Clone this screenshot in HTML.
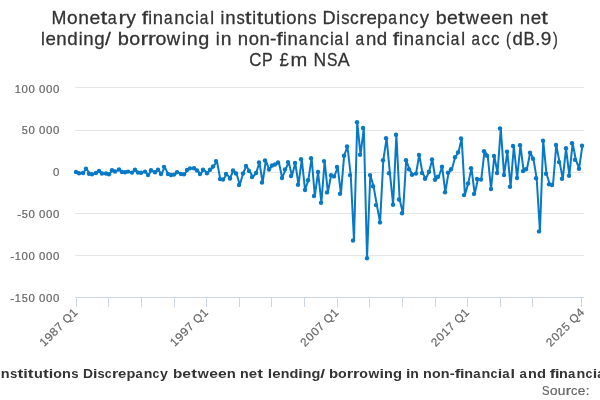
<!DOCTYPE html>
<html><head><meta charset="utf-8"><style>
html,body{margin:0;padding:0;background:#fff;width:600px;height:400px;overflow:hidden}
svg{display:block;will-change:transform}
text{font-family:"Liberation Sans",sans-serif}
</style></head><body>
<svg width="600" height="400" viewBox="0 0 600 400">
<rect width="600" height="400" fill="#ffffff"/>
<rect x="75" y="87" width="509" height="1" fill="#e6e6e6"/>
<rect x="75" y="130" width="509" height="1" fill="#e6e6e6"/>
<rect x="75" y="172" width="509" height="1" fill="#e6e6e6"/>
<rect x="75" y="213" width="509" height="1" fill="#e6e6e6"/>
<rect x="75" y="255" width="509" height="1" fill="#e6e6e6"/>
<rect x="75" y="297" width="509" height="1" fill="#ccd6eb"/>
<rect x="76" y="297" width="1" height="10" fill="#ccd6eb"/>
<rect x="108" y="297" width="1" height="10" fill="#ccd6eb"/>
<rect x="141" y="297" width="1" height="10" fill="#ccd6eb"/>
<rect x="174" y="297" width="1" height="10" fill="#ccd6eb"/>
<rect x="206" y="297" width="1" height="10" fill="#ccd6eb"/>
<rect x="239" y="297" width="1" height="10" fill="#ccd6eb"/>
<rect x="271" y="297" width="1" height="10" fill="#ccd6eb"/>
<rect x="304" y="297" width="1" height="10" fill="#ccd6eb"/>
<rect x="337" y="297" width="1" height="10" fill="#ccd6eb"/>
<rect x="369" y="297" width="1" height="10" fill="#ccd6eb"/>
<rect x="402" y="297" width="1" height="10" fill="#ccd6eb"/>
<rect x="435" y="297" width="1" height="10" fill="#ccd6eb"/>
<rect x="467" y="297" width="1" height="10" fill="#ccd6eb"/>
<rect x="500" y="297" width="1" height="10" fill="#ccd6eb"/>
<rect x="532" y="297" width="1" height="10" fill="#ccd6eb"/>
<rect x="581" y="297" width="1" height="10" fill="#ccd6eb"/>
<text x="14.70" y="93.00" textLength="6.12" lengthAdjust="spacingAndGlyphs" font-size="11.3" font-weight="normal" fill="#666666" stroke="#666666" stroke-width="0.2">1</text>
<text x="21.62" y="93.00" textLength="6.37" lengthAdjust="spacingAndGlyphs" font-size="11.3" font-weight="normal" fill="#666666" stroke="#666666" stroke-width="0.2">0</text>
<text x="28.62" y="93.00" textLength="6.37" lengthAdjust="spacingAndGlyphs" font-size="11.3" font-weight="normal" fill="#666666" stroke="#666666" stroke-width="0.2">0</text>
<text x="39.12" y="93.00" textLength="6.37" lengthAdjust="spacingAndGlyphs" font-size="11.3" font-weight="normal" fill="#666666" stroke="#666666" stroke-width="0.2">0</text>
<text x="46.12" y="93.00" textLength="6.37" lengthAdjust="spacingAndGlyphs" font-size="11.3" font-weight="normal" fill="#666666" stroke="#666666" stroke-width="0.2">0</text>
<text x="53.12" y="93.00" textLength="6.37" lengthAdjust="spacingAndGlyphs" font-size="11.3" font-weight="normal" fill="#666666" stroke="#666666" stroke-width="0.2">0</text>
<text x="21.70" y="134.00" textLength="6.12" lengthAdjust="spacingAndGlyphs" font-size="11.3" font-weight="normal" fill="#666666" stroke="#666666" stroke-width="0.2">5</text>
<text x="28.62" y="134.00" textLength="6.37" lengthAdjust="spacingAndGlyphs" font-size="11.3" font-weight="normal" fill="#666666" stroke="#666666" stroke-width="0.2">0</text>
<text x="39.12" y="134.00" textLength="6.37" lengthAdjust="spacingAndGlyphs" font-size="11.3" font-weight="normal" fill="#666666" stroke="#666666" stroke-width="0.2">0</text>
<text x="46.12" y="134.00" textLength="6.37" lengthAdjust="spacingAndGlyphs" font-size="11.3" font-weight="normal" fill="#666666" stroke="#666666" stroke-width="0.2">0</text>
<text x="53.12" y="134.00" textLength="6.37" lengthAdjust="spacingAndGlyphs" font-size="11.3" font-weight="normal" fill="#666666" stroke="#666666" stroke-width="0.2">0</text>
<text x="53.14" y="176.00" textLength="6.37" lengthAdjust="spacingAndGlyphs" font-size="11.3" font-weight="normal" fill="#666666" stroke="#666666" stroke-width="0.2">0</text>
<text x="17.29" y="218.00" textLength="4.04" lengthAdjust="spacingAndGlyphs" font-size="11.3" font-weight="normal" fill="#666666" stroke="#666666" stroke-width="0.2">-</text>
<text x="21.70" y="218.00" textLength="6.12" lengthAdjust="spacingAndGlyphs" font-size="11.3" font-weight="normal" fill="#666666" stroke="#666666" stroke-width="0.2">5</text>
<text x="28.62" y="218.00" textLength="6.37" lengthAdjust="spacingAndGlyphs" font-size="11.3" font-weight="normal" fill="#666666" stroke="#666666" stroke-width="0.2">0</text>
<text x="39.12" y="218.00" textLength="6.37" lengthAdjust="spacingAndGlyphs" font-size="11.3" font-weight="normal" fill="#666666" stroke="#666666" stroke-width="0.2">0</text>
<text x="46.12" y="218.00" textLength="6.37" lengthAdjust="spacingAndGlyphs" font-size="11.3" font-weight="normal" fill="#666666" stroke="#666666" stroke-width="0.2">0</text>
<text x="53.12" y="218.00" textLength="6.37" lengthAdjust="spacingAndGlyphs" font-size="11.3" font-weight="normal" fill="#666666" stroke="#666666" stroke-width="0.2">0</text>
<text x="10.29" y="260.00" textLength="4.04" lengthAdjust="spacingAndGlyphs" font-size="11.3" font-weight="normal" fill="#666666" stroke="#666666" stroke-width="0.2">-</text>
<text x="14.70" y="260.00" textLength="6.12" lengthAdjust="spacingAndGlyphs" font-size="11.3" font-weight="normal" fill="#666666" stroke="#666666" stroke-width="0.2">1</text>
<text x="21.62" y="260.00" textLength="6.37" lengthAdjust="spacingAndGlyphs" font-size="11.3" font-weight="normal" fill="#666666" stroke="#666666" stroke-width="0.2">0</text>
<text x="28.62" y="260.00" textLength="6.37" lengthAdjust="spacingAndGlyphs" font-size="11.3" font-weight="normal" fill="#666666" stroke="#666666" stroke-width="0.2">0</text>
<text x="39.12" y="260.00" textLength="6.37" lengthAdjust="spacingAndGlyphs" font-size="11.3" font-weight="normal" fill="#666666" stroke="#666666" stroke-width="0.2">0</text>
<text x="46.12" y="260.00" textLength="6.37" lengthAdjust="spacingAndGlyphs" font-size="11.3" font-weight="normal" fill="#666666" stroke="#666666" stroke-width="0.2">0</text>
<text x="53.12" y="260.00" textLength="6.37" lengthAdjust="spacingAndGlyphs" font-size="11.3" font-weight="normal" fill="#666666" stroke="#666666" stroke-width="0.2">0</text>
<text x="10.29" y="302.00" textLength="4.04" lengthAdjust="spacingAndGlyphs" font-size="11.3" font-weight="normal" fill="#666666" stroke="#666666" stroke-width="0.2">-</text>
<text x="14.70" y="302.00" textLength="6.12" lengthAdjust="spacingAndGlyphs" font-size="11.3" font-weight="normal" fill="#666666" stroke="#666666" stroke-width="0.2">1</text>
<text x="21.70" y="302.00" textLength="6.12" lengthAdjust="spacingAndGlyphs" font-size="11.3" font-weight="normal" fill="#666666" stroke="#666666" stroke-width="0.2">5</text>
<text x="28.62" y="302.00" textLength="6.37" lengthAdjust="spacingAndGlyphs" font-size="11.3" font-weight="normal" fill="#666666" stroke="#666666" stroke-width="0.2">0</text>
<text x="39.12" y="302.00" textLength="6.37" lengthAdjust="spacingAndGlyphs" font-size="11.3" font-weight="normal" fill="#666666" stroke="#666666" stroke-width="0.2">0</text>
<text x="46.12" y="302.00" textLength="6.37" lengthAdjust="spacingAndGlyphs" font-size="11.3" font-weight="normal" fill="#666666" stroke="#666666" stroke-width="0.2">0</text>
<text x="53.12" y="302.00" textLength="6.37" lengthAdjust="spacingAndGlyphs" font-size="11.3" font-weight="normal" fill="#666666" stroke="#666666" stroke-width="0.2">0</text>
<text x="51.57" y="23.90" textLength="14.89" lengthAdjust="spacingAndGlyphs" font-size="18.4" font-weight="normal" fill="#333333" stroke="#333333" stroke-width="0.28">M</text>
<text x="67.05" y="23.90" textLength="10.65" lengthAdjust="spacingAndGlyphs" font-size="18.4" font-weight="normal" fill="#333333" stroke="#333333" stroke-width="0.28">o</text>
<text x="78.21" y="23.90" textLength="10.71" lengthAdjust="spacingAndGlyphs" font-size="18.4" font-weight="normal" fill="#333333" stroke="#333333" stroke-width="0.28">n</text>
<text x="89.47" y="23.90" textLength="10.75" lengthAdjust="spacingAndGlyphs" font-size="18.4" font-weight="normal" fill="#333333" stroke="#333333" stroke-width="0.28">e</text>
<text x="100.41" y="23.90" textLength="6.77" lengthAdjust="spacingAndGlyphs" font-size="18.4" font-weight="normal" fill="#333333" stroke="#333333" stroke-width="0.28">t</text>
<text x="107.82" y="23.90" textLength="8.95" lengthAdjust="spacingAndGlyphs" font-size="18.4" font-weight="normal" fill="#333333" stroke="#333333" stroke-width="0.28">a</text>
<text x="118.55" y="23.90" textLength="7.64" lengthAdjust="spacingAndGlyphs" font-size="18.4" font-weight="normal" fill="#333333" stroke="#333333" stroke-width="0.28">r</text>
<text x="126.36" y="23.90" textLength="9.63" lengthAdjust="spacingAndGlyphs" font-size="18.4" font-weight="normal" fill="#333333" stroke="#333333" stroke-width="0.28">y</text>
<text x="141.77" y="23.90" textLength="6.30" lengthAdjust="spacingAndGlyphs" font-size="18.4" font-weight="normal" fill="#333333" stroke="#333333" stroke-width="0.28">f</text>
<text x="148.25" y="23.90" textLength="3.83" lengthAdjust="spacingAndGlyphs" font-size="18.4" font-weight="normal" fill="#333333" stroke="#333333" stroke-width="0.28">i</text>
<text x="152.88" y="23.90" textLength="10.27" lengthAdjust="spacingAndGlyphs" font-size="18.4" font-weight="normal" fill="#333333" stroke="#333333" stroke-width="0.28">n</text>
<text x="163.88" y="23.90" textLength="8.58" lengthAdjust="spacingAndGlyphs" font-size="18.4" font-weight="normal" fill="#333333" stroke="#333333" stroke-width="0.28">a</text>
<text x="174.39" y="23.90" textLength="10.27" lengthAdjust="spacingAndGlyphs" font-size="18.4" font-weight="normal" fill="#333333" stroke="#333333" stroke-width="0.28">n</text>
<text x="185.23" y="23.90" textLength="8.63" lengthAdjust="spacingAndGlyphs" font-size="18.4" font-weight="normal" fill="#333333" stroke="#333333" stroke-width="0.28">c</text>
<text x="194.97" y="23.90" textLength="3.83" lengthAdjust="spacingAndGlyphs" font-size="18.4" font-weight="normal" fill="#333333" stroke="#333333" stroke-width="0.28">i</text>
<text x="199.67" y="23.90" textLength="8.58" lengthAdjust="spacingAndGlyphs" font-size="18.4" font-weight="normal" fill="#333333" stroke="#333333" stroke-width="0.28">a</text>
<text x="210.34" y="23.90" textLength="3.83" lengthAdjust="spacingAndGlyphs" font-size="18.4" font-weight="normal" fill="#333333" stroke="#333333" stroke-width="0.28">l</text>
<text x="220.62" y="23.90" textLength="3.86" lengthAdjust="spacingAndGlyphs" font-size="18.4" font-weight="normal" fill="#333333" stroke="#333333" stroke-width="0.28">i</text>
<text x="225.28" y="23.90" textLength="10.34" lengthAdjust="spacingAndGlyphs" font-size="18.4" font-weight="normal" fill="#333333" stroke="#333333" stroke-width="0.28">n</text>
<text x="236.48" y="23.90" textLength="8.29" lengthAdjust="spacingAndGlyphs" font-size="18.4" font-weight="normal" fill="#333333" stroke="#333333" stroke-width="0.28">s</text>
<text x="245.07" y="23.90" textLength="6.53" lengthAdjust="spacingAndGlyphs" font-size="18.4" font-weight="normal" fill="#333333" stroke="#333333" stroke-width="0.28">t</text>
<text x="252.32" y="23.90" textLength="3.86" lengthAdjust="spacingAndGlyphs" font-size="18.4" font-weight="normal" fill="#333333" stroke="#333333" stroke-width="0.28">i</text>
<text x="256.71" y="23.90" textLength="6.53" lengthAdjust="spacingAndGlyphs" font-size="18.4" font-weight="normal" fill="#333333" stroke="#333333" stroke-width="0.28">t</text>
<text x="263.69" y="23.90" textLength="10.46" lengthAdjust="spacingAndGlyphs" font-size="18.4" font-weight="normal" fill="#333333" stroke="#333333" stroke-width="0.28">u</text>
<text x="274.53" y="23.90" textLength="6.53" lengthAdjust="spacingAndGlyphs" font-size="18.4" font-weight="normal" fill="#333333" stroke="#333333" stroke-width="0.28">t</text>
<text x="281.79" y="23.90" textLength="3.86" lengthAdjust="spacingAndGlyphs" font-size="18.4" font-weight="normal" fill="#333333" stroke="#333333" stroke-width="0.28">i</text>
<text x="286.31" y="23.90" textLength="10.27" lengthAdjust="spacingAndGlyphs" font-size="18.4" font-weight="normal" fill="#333333" stroke="#333333" stroke-width="0.28">o</text>
<text x="297.08" y="23.90" textLength="10.34" lengthAdjust="spacingAndGlyphs" font-size="18.4" font-weight="normal" fill="#333333" stroke="#333333" stroke-width="0.28">n</text>
<text x="308.27" y="23.90" textLength="8.29" lengthAdjust="spacingAndGlyphs" font-size="18.4" font-weight="normal" fill="#333333" stroke="#333333" stroke-width="0.28">s</text>
<text x="322.55" y="23.90" textLength="13.11" lengthAdjust="spacingAndGlyphs" font-size="18.4" font-weight="normal" fill="#333333" stroke="#333333" stroke-width="0.28">D</text>
<text x="336.29" y="23.90" textLength="3.87" lengthAdjust="spacingAndGlyphs" font-size="18.4" font-weight="normal" fill="#333333" stroke="#333333" stroke-width="0.28">i</text>
<text x="341.15" y="23.90" textLength="8.32" lengthAdjust="spacingAndGlyphs" font-size="18.4" font-weight="normal" fill="#333333" stroke="#333333" stroke-width="0.28">s</text>
<text x="349.95" y="23.90" textLength="8.71" lengthAdjust="spacingAndGlyphs" font-size="18.4" font-weight="normal" fill="#333333" stroke="#333333" stroke-width="0.28">c</text>
<text x="359.39" y="23.90" textLength="7.40" lengthAdjust="spacingAndGlyphs" font-size="18.4" font-weight="normal" fill="#333333" stroke="#333333" stroke-width="0.28">r</text>
<text x="366.64" y="23.90" textLength="10.41" lengthAdjust="spacingAndGlyphs" font-size="18.4" font-weight="normal" fill="#333333" stroke="#333333" stroke-width="0.28">e</text>
<text x="377.11" y="23.90" textLength="10.55" lengthAdjust="spacingAndGlyphs" font-size="18.4" font-weight="normal" fill="#333333" stroke="#333333" stroke-width="0.28">p</text>
<text x="388.26" y="23.90" textLength="8.67" lengthAdjust="spacingAndGlyphs" font-size="18.4" font-weight="normal" fill="#333333" stroke="#333333" stroke-width="0.28">a</text>
<text x="398.87" y="23.90" textLength="10.37" lengthAdjust="spacingAndGlyphs" font-size="18.4" font-weight="normal" fill="#333333" stroke="#333333" stroke-width="0.28">n</text>
<text x="409.82" y="23.90" textLength="8.71" lengthAdjust="spacingAndGlyphs" font-size="18.4" font-weight="normal" fill="#333333" stroke="#333333" stroke-width="0.28">c</text>
<text x="419.67" y="23.90" textLength="9.32" lengthAdjust="spacingAndGlyphs" font-size="18.4" font-weight="normal" fill="#333333" stroke="#333333" stroke-width="0.28">y</text>
<text x="435.72" y="23.90" textLength="10.94" lengthAdjust="spacingAndGlyphs" font-size="18.4" font-weight="normal" fill="#333333" stroke="#333333" stroke-width="0.28">b</text>
<text x="447.06" y="23.90" textLength="10.79" lengthAdjust="spacingAndGlyphs" font-size="18.4" font-weight="normal" fill="#333333" stroke="#333333" stroke-width="0.28">e</text>
<text x="458.05" y="23.90" textLength="6.79" lengthAdjust="spacingAndGlyphs" font-size="18.4" font-weight="normal" fill="#333333" stroke="#333333" stroke-width="0.28">t</text>
<text x="465.86" y="23.90" textLength="13.14" lengthAdjust="spacingAndGlyphs" font-size="18.4" font-weight="normal" fill="#333333" stroke="#333333" stroke-width="0.28">w</text>
<text x="480.05" y="23.90" textLength="10.79" lengthAdjust="spacingAndGlyphs" font-size="18.4" font-weight="normal" fill="#333333" stroke="#333333" stroke-width="0.28">e</text>
<text x="491.17" y="23.90" textLength="10.79" lengthAdjust="spacingAndGlyphs" font-size="18.4" font-weight="normal" fill="#333333" stroke="#333333" stroke-width="0.28">e</text>
<text x="502.44" y="23.90" textLength="10.75" lengthAdjust="spacingAndGlyphs" font-size="18.4" font-weight="normal" fill="#333333" stroke="#333333" stroke-width="0.28">n</text>
<text x="519.78" y="23.90" textLength="10.40" lengthAdjust="spacingAndGlyphs" font-size="18.4" font-weight="normal" fill="#333333" stroke="#333333" stroke-width="0.28">n</text>
<text x="530.72" y="23.90" textLength="10.44" lengthAdjust="spacingAndGlyphs" font-size="18.4" font-weight="normal" fill="#333333" stroke="#333333" stroke-width="0.28">e</text>
<text x="541.35" y="23.90" textLength="6.57" lengthAdjust="spacingAndGlyphs" font-size="18.4" font-weight="normal" fill="#333333" stroke="#333333" stroke-width="0.28">t</text>
<text x="40.97" y="44.75" textLength="3.87" lengthAdjust="spacingAndGlyphs" font-size="18.4" font-weight="normal" fill="#333333" stroke="#333333" stroke-width="0.28">l</text>
<text x="45.49" y="44.75" textLength="10.40" lengthAdjust="spacingAndGlyphs" font-size="18.4" font-weight="normal" fill="#333333" stroke="#333333" stroke-width="0.28">e</text>
<text x="56.36" y="44.75" textLength="10.37" lengthAdjust="spacingAndGlyphs" font-size="18.4" font-weight="normal" fill="#333333" stroke="#333333" stroke-width="0.28">n</text>
<text x="67.25" y="44.75" textLength="10.43" lengthAdjust="spacingAndGlyphs" font-size="18.4" font-weight="normal" fill="#333333" stroke="#333333" stroke-width="0.28">d</text>
<text x="78.63" y="44.75" textLength="3.87" lengthAdjust="spacingAndGlyphs" font-size="18.4" font-weight="normal" fill="#333333" stroke="#333333" stroke-width="0.28">i</text>
<text x="83.30" y="44.75" textLength="10.37" lengthAdjust="spacingAndGlyphs" font-size="18.4" font-weight="normal" fill="#333333" stroke="#333333" stroke-width="0.28">n</text>
<text x="94.19" y="44.75" textLength="10.43" lengthAdjust="spacingAndGlyphs" font-size="18.4" font-weight="normal" fill="#333333" stroke="#333333" stroke-width="0.28">g</text>
<text x="105.04" y="44.75" textLength="5.88" lengthAdjust="spacingAndGlyphs" font-size="18.4" font-weight="normal" fill="#333333" stroke="#333333" stroke-width="0.28">/</text>
<text x="117.69" y="44.75" textLength="11.17" lengthAdjust="spacingAndGlyphs" font-size="18.4" font-weight="normal" fill="#333333" stroke="#333333" stroke-width="0.28">b</text>
<text x="129.28" y="44.75" textLength="10.91" lengthAdjust="spacingAndGlyphs" font-size="18.4" font-weight="normal" fill="#333333" stroke="#333333" stroke-width="0.28">o</text>
<text x="140.47" y="44.75" textLength="7.83" lengthAdjust="spacingAndGlyphs" font-size="18.4" font-weight="normal" fill="#333333" stroke="#333333" stroke-width="0.28">r</text>
<text x="148.05" y="44.75" textLength="7.83" lengthAdjust="spacingAndGlyphs" font-size="18.4" font-weight="normal" fill="#333333" stroke="#333333" stroke-width="0.28">r</text>
<text x="155.41" y="44.75" textLength="10.91" lengthAdjust="spacingAndGlyphs" font-size="18.4" font-weight="normal" fill="#333333" stroke="#333333" stroke-width="0.28">o</text>
<text x="166.89" y="44.75" textLength="13.41" lengthAdjust="spacingAndGlyphs" font-size="18.4" font-weight="normal" fill="#333333" stroke="#333333" stroke-width="0.28">w</text>
<text x="181.70" y="44.75" textLength="4.10" lengthAdjust="spacingAndGlyphs" font-size="18.4" font-weight="normal" fill="#333333" stroke="#333333" stroke-width="0.28">i</text>
<text x="186.65" y="44.75" textLength="10.97" lengthAdjust="spacingAndGlyphs" font-size="18.4" font-weight="normal" fill="#333333" stroke="#333333" stroke-width="0.28">n</text>
<text x="198.18" y="44.75" textLength="11.05" lengthAdjust="spacingAndGlyphs" font-size="18.4" font-weight="normal" fill="#333333" stroke="#333333" stroke-width="0.28">g</text>
<text x="215.83" y="44.75" textLength="4.01" lengthAdjust="spacingAndGlyphs" font-size="18.4" font-weight="normal" fill="#333333" stroke="#333333" stroke-width="0.28">i</text>
<text x="220.66" y="44.75" textLength="10.73" lengthAdjust="spacingAndGlyphs" font-size="18.4" font-weight="normal" fill="#333333" stroke="#333333" stroke-width="0.28">n</text>
<text x="237.79" y="44.75" textLength="10.32" lengthAdjust="spacingAndGlyphs" font-size="18.4" font-weight="normal" fill="#333333" stroke="#333333" stroke-width="0.28">n</text>
<text x="248.65" y="44.75" textLength="10.25" lengthAdjust="spacingAndGlyphs" font-size="18.4" font-weight="normal" fill="#333333" stroke="#333333" stroke-width="0.28">o</text>
<text x="259.40" y="44.75" textLength="10.32" lengthAdjust="spacingAndGlyphs" font-size="18.4" font-weight="normal" fill="#333333" stroke="#333333" stroke-width="0.28">n</text>
<text x="269.95" y="44.75" textLength="6.37" lengthAdjust="spacingAndGlyphs" font-size="18.4" font-weight="normal" fill="#333333" stroke="#333333" stroke-width="0.28">-</text>
<text x="276.41" y="44.75" textLength="6.33" lengthAdjust="spacingAndGlyphs" font-size="18.4" font-weight="normal" fill="#333333" stroke="#333333" stroke-width="0.28">f</text>
<text x="282.92" y="44.75" textLength="3.85" lengthAdjust="spacingAndGlyphs" font-size="18.4" font-weight="normal" fill="#333333" stroke="#333333" stroke-width="0.28">i</text>
<text x="287.57" y="44.75" textLength="10.32" lengthAdjust="spacingAndGlyphs" font-size="18.4" font-weight="normal" fill="#333333" stroke="#333333" stroke-width="0.28">n</text>
<text x="298.63" y="44.75" textLength="8.63" lengthAdjust="spacingAndGlyphs" font-size="18.4" font-weight="normal" fill="#333333" stroke="#333333" stroke-width="0.28">a</text>
<text x="309.19" y="44.75" textLength="10.32" lengthAdjust="spacingAndGlyphs" font-size="18.4" font-weight="normal" fill="#333333" stroke="#333333" stroke-width="0.28">n</text>
<text x="320.09" y="44.75" textLength="8.67" lengthAdjust="spacingAndGlyphs" font-size="18.4" font-weight="normal" fill="#333333" stroke="#333333" stroke-width="0.28">c</text>
<text x="329.89" y="44.75" textLength="3.85" lengthAdjust="spacingAndGlyphs" font-size="18.4" font-weight="normal" fill="#333333" stroke="#333333" stroke-width="0.28">i</text>
<text x="334.60" y="44.75" textLength="8.63" lengthAdjust="spacingAndGlyphs" font-size="18.4" font-weight="normal" fill="#333333" stroke="#333333" stroke-width="0.28">a</text>
<text x="345.33" y="44.75" textLength="3.85" lengthAdjust="spacingAndGlyphs" font-size="18.4" font-weight="normal" fill="#333333" stroke="#333333" stroke-width="0.28">l</text>
<text x="355.38" y="44.75" textLength="8.62" lengthAdjust="spacingAndGlyphs" font-size="18.4" font-weight="normal" fill="#333333" stroke="#333333" stroke-width="0.28">a</text>
<text x="365.94" y="44.75" textLength="10.32" lengthAdjust="spacingAndGlyphs" font-size="18.4" font-weight="normal" fill="#333333" stroke="#333333" stroke-width="0.28">n</text>
<text x="376.78" y="44.75" textLength="10.39" lengthAdjust="spacingAndGlyphs" font-size="18.4" font-weight="normal" fill="#333333" stroke="#333333" stroke-width="0.28">d</text>
<text x="392.77" y="44.75" textLength="6.30" lengthAdjust="spacingAndGlyphs" font-size="18.4" font-weight="normal" fill="#333333" stroke="#333333" stroke-width="0.28">f</text>
<text x="399.25" y="44.75" textLength="3.83" lengthAdjust="spacingAndGlyphs" font-size="18.4" font-weight="normal" fill="#333333" stroke="#333333" stroke-width="0.28">i</text>
<text x="403.88" y="44.75" textLength="10.27" lengthAdjust="spacingAndGlyphs" font-size="18.4" font-weight="normal" fill="#333333" stroke="#333333" stroke-width="0.28">n</text>
<text x="414.88" y="44.75" textLength="8.58" lengthAdjust="spacingAndGlyphs" font-size="18.4" font-weight="normal" fill="#333333" stroke="#333333" stroke-width="0.28">a</text>
<text x="425.39" y="44.75" textLength="10.27" lengthAdjust="spacingAndGlyphs" font-size="18.4" font-weight="normal" fill="#333333" stroke="#333333" stroke-width="0.28">n</text>
<text x="436.23" y="44.75" textLength="8.63" lengthAdjust="spacingAndGlyphs" font-size="18.4" font-weight="normal" fill="#333333" stroke="#333333" stroke-width="0.28">c</text>
<text x="445.97" y="44.75" textLength="3.83" lengthAdjust="spacingAndGlyphs" font-size="18.4" font-weight="normal" fill="#333333" stroke="#333333" stroke-width="0.28">i</text>
<text x="450.67" y="44.75" textLength="8.58" lengthAdjust="spacingAndGlyphs" font-size="18.4" font-weight="normal" fill="#333333" stroke="#333333" stroke-width="0.28">a</text>
<text x="461.34" y="44.75" textLength="3.83" lengthAdjust="spacingAndGlyphs" font-size="18.4" font-weight="normal" fill="#333333" stroke="#333333" stroke-width="0.28">l</text>
<text x="471.39" y="44.75" textLength="8.42" lengthAdjust="spacingAndGlyphs" font-size="18.4" font-weight="normal" fill="#333333" stroke="#333333" stroke-width="0.28">a</text>
<text x="481.61" y="44.75" textLength="8.46" lengthAdjust="spacingAndGlyphs" font-size="18.4" font-weight="normal" fill="#333333" stroke="#333333" stroke-width="0.28">c</text>
<text x="490.92" y="44.75" textLength="8.46" lengthAdjust="spacingAndGlyphs" font-size="18.4" font-weight="normal" fill="#333333" stroke="#333333" stroke-width="0.28">c</text>
<text x="506.12" y="44.75" textLength="4.90" lengthAdjust="spacingAndGlyphs" font-size="18.4" font-weight="normal" fill="#333333" stroke="#333333" stroke-width="0.28">(</text>
<text x="512.50" y="44.75" textLength="10.38" lengthAdjust="spacingAndGlyphs" font-size="18.4" font-weight="normal" fill="#333333" stroke="#333333" stroke-width="0.28">d</text>
<text x="523.59" y="44.75" textLength="11.24" lengthAdjust="spacingAndGlyphs" font-size="18.4" font-weight="normal" fill="#333333" stroke="#333333" stroke-width="0.28">B</text>
<text x="535.36" y="44.75" textLength="5.06" lengthAdjust="spacingAndGlyphs" font-size="18.4" font-weight="normal" fill="#333333" stroke="#333333" stroke-width="0.28">.</text>
<text x="540.87" y="44.75" textLength="10.57" lengthAdjust="spacingAndGlyphs" font-size="18.4" font-weight="normal" fill="#333333" stroke="#333333" stroke-width="0.28">9</text>
<text x="553.03" y="44.75" textLength="4.81" lengthAdjust="spacingAndGlyphs" font-size="18.4" font-weight="normal" fill="#333333" stroke="#333333" stroke-width="0.28">)</text>
<text x="249.16" y="65.60" textLength="12.15" lengthAdjust="spacingAndGlyphs" font-size="18.4" font-weight="normal" fill="#333333" stroke="#333333" stroke-width="0.28">C</text>
<text x="262.08" y="65.60" textLength="10.72" lengthAdjust="spacingAndGlyphs" font-size="18.4" font-weight="normal" fill="#333333" stroke="#333333" stroke-width="0.28">P</text>
<text x="279.58" y="65.60" textLength="9.39" lengthAdjust="spacingAndGlyphs" font-size="18.4" font-weight="normal" fill="#333333" stroke="#333333" stroke-width="0.28">£</text>
<text x="290.52" y="65.60" textLength="16.78" lengthAdjust="spacingAndGlyphs" font-size="18.4" font-weight="normal" fill="#333333" stroke="#333333" stroke-width="0.28">m</text>
<text x="313.60" y="65.60" textLength="12.65" lengthAdjust="spacingAndGlyphs" font-size="18.4" font-weight="normal" fill="#333333" stroke="#333333" stroke-width="0.28">N</text>
<text x="326.99" y="65.60" textLength="10.47" lengthAdjust="spacingAndGlyphs" font-size="18.4" font-weight="normal" fill="#333333" stroke="#333333" stroke-width="0.28">S</text>
<text x="337.85" y="65.60" textLength="11.88" lengthAdjust="spacingAndGlyphs" font-size="18.4" font-weight="normal" fill="#333333" stroke="#333333" stroke-width="0.28">A</text>
<g transform="translate(78.48,312.80) rotate(-45)"><text x="-48.46" y="0.00" textLength="6.34" lengthAdjust="spacingAndGlyphs" font-size="11.6" font-weight="normal" fill="#666666" stroke="#666666" stroke-width="0.2">1</text><text x="-41.49" y="0.00" textLength="6.95" lengthAdjust="spacingAndGlyphs" font-size="11.6" font-weight="normal" fill="#666666" stroke="#666666" stroke-width="0.2">9</text><text x="-34.10" y="0.00" textLength="6.74" lengthAdjust="spacingAndGlyphs" font-size="11.6" font-weight="normal" fill="#666666" stroke="#666666" stroke-width="0.2">8</text><text x="-26.77" y="0.00" textLength="6.48" lengthAdjust="spacingAndGlyphs" font-size="11.6" font-weight="normal" fill="#666666" stroke="#666666" stroke-width="0.2">7</text><text x="-16.11" y="0.00" textLength="8.80" lengthAdjust="spacingAndGlyphs" font-size="11.6" font-weight="normal" fill="#666666" stroke="#666666" stroke-width="0.2">Q</text><text x="-6.85" y="0.00" textLength="6.34" lengthAdjust="spacingAndGlyphs" font-size="11.6" font-weight="normal" fill="#666666" stroke="#666666" stroke-width="0.2">1</text></g>
<g transform="translate(209.01,312.80) rotate(-45)"><text x="-48.46" y="0.00" textLength="6.34" lengthAdjust="spacingAndGlyphs" font-size="11.6" font-weight="normal" fill="#666666" stroke="#666666" stroke-width="0.2">1</text><text x="-41.49" y="0.00" textLength="6.95" lengthAdjust="spacingAndGlyphs" font-size="11.6" font-weight="normal" fill="#666666" stroke="#666666" stroke-width="0.2">9</text><text x="-34.24" y="0.00" textLength="6.95" lengthAdjust="spacingAndGlyphs" font-size="11.6" font-weight="normal" fill="#666666" stroke="#666666" stroke-width="0.2">9</text><text x="-26.77" y="0.00" textLength="6.48" lengthAdjust="spacingAndGlyphs" font-size="11.6" font-weight="normal" fill="#666666" stroke="#666666" stroke-width="0.2">7</text><text x="-16.11" y="0.00" textLength="8.80" lengthAdjust="spacingAndGlyphs" font-size="11.6" font-weight="normal" fill="#666666" stroke="#666666" stroke-width="0.2">Q</text><text x="-6.85" y="0.00" textLength="6.34" lengthAdjust="spacingAndGlyphs" font-size="11.6" font-weight="normal" fill="#666666" stroke="#666666" stroke-width="0.2">1</text></g>
<g transform="translate(339.49,312.80) rotate(-45)"><text x="-48.65" y="0.00" textLength="6.48" lengthAdjust="spacingAndGlyphs" font-size="11.6" font-weight="normal" fill="#666666" stroke="#666666" stroke-width="0.2">2</text><text x="-41.28" y="0.00" textLength="6.60" lengthAdjust="spacingAndGlyphs" font-size="11.6" font-weight="normal" fill="#666666" stroke="#666666" stroke-width="0.2">0</text><text x="-34.03" y="0.00" textLength="6.60" lengthAdjust="spacingAndGlyphs" font-size="11.6" font-weight="normal" fill="#666666" stroke="#666666" stroke-width="0.2">0</text><text x="-26.77" y="0.00" textLength="6.48" lengthAdjust="spacingAndGlyphs" font-size="11.6" font-weight="normal" fill="#666666" stroke="#666666" stroke-width="0.2">7</text><text x="-16.11" y="0.00" textLength="8.80" lengthAdjust="spacingAndGlyphs" font-size="11.6" font-weight="normal" fill="#666666" stroke="#666666" stroke-width="0.2">Q</text><text x="-6.85" y="0.00" textLength="6.34" lengthAdjust="spacingAndGlyphs" font-size="11.6" font-weight="normal" fill="#666666" stroke="#666666" stroke-width="0.2">1</text></g>
<g transform="translate(470.02,312.80) rotate(-45)"><text x="-48.65" y="0.00" textLength="6.48" lengthAdjust="spacingAndGlyphs" font-size="11.6" font-weight="normal" fill="#666666" stroke="#666666" stroke-width="0.2">2</text><text x="-41.28" y="0.00" textLength="6.60" lengthAdjust="spacingAndGlyphs" font-size="11.6" font-weight="normal" fill="#666666" stroke="#666666" stroke-width="0.2">0</text><text x="-33.96" y="0.00" textLength="6.34" lengthAdjust="spacingAndGlyphs" font-size="11.6" font-weight="normal" fill="#666666" stroke="#666666" stroke-width="0.2">1</text><text x="-26.77" y="0.00" textLength="6.48" lengthAdjust="spacingAndGlyphs" font-size="11.6" font-weight="normal" fill="#666666" stroke="#666666" stroke-width="0.2">7</text><text x="-16.11" y="0.00" textLength="8.80" lengthAdjust="spacingAndGlyphs" font-size="11.6" font-weight="normal" fill="#666666" stroke="#666666" stroke-width="0.2">Q</text><text x="-6.85" y="0.00" textLength="6.34" lengthAdjust="spacingAndGlyphs" font-size="11.6" font-weight="normal" fill="#666666" stroke="#666666" stroke-width="0.2">1</text></g>
<g transform="translate(585.08,312.80) rotate(-45)"><text x="-48.65" y="0.00" textLength="6.48" lengthAdjust="spacingAndGlyphs" font-size="11.6" font-weight="normal" fill="#666666" stroke="#666666" stroke-width="0.2">2</text><text x="-41.28" y="0.00" textLength="6.60" lengthAdjust="spacingAndGlyphs" font-size="11.6" font-weight="normal" fill="#666666" stroke="#666666" stroke-width="0.2">0</text><text x="-34.14" y="0.00" textLength="6.48" lengthAdjust="spacingAndGlyphs" font-size="11.6" font-weight="normal" fill="#666666" stroke="#666666" stroke-width="0.2">2</text><text x="-26.70" y="0.00" textLength="6.34" lengthAdjust="spacingAndGlyphs" font-size="11.6" font-weight="normal" fill="#666666" stroke="#666666" stroke-width="0.2">5</text><text x="-16.11" y="0.00" textLength="8.80" lengthAdjust="spacingAndGlyphs" font-size="11.6" font-weight="normal" fill="#666666" stroke="#666666" stroke-width="0.2">Q</text><text x="-6.98" y="0.00" textLength="6.65" lengthAdjust="spacingAndGlyphs" font-size="11.6" font-weight="normal" fill="#666666" stroke="#666666" stroke-width="0.2">4</text></g>
<text x="0.86" y="378.00" textLength="8.86" lengthAdjust="spacingAndGlyphs" font-size="12.9" font-weight="bold" fill="#333333" stroke="#333333" stroke-width="0.0">n</text>
<text x="9.98" y="378.00" textLength="7.35" lengthAdjust="spacingAndGlyphs" font-size="12.9" font-weight="bold" fill="#333333" stroke="#333333" stroke-width="0.0">s</text>
<text x="17.43" y="378.00" textLength="5.80" lengthAdjust="spacingAndGlyphs" font-size="12.9" font-weight="bold" fill="#333333" stroke="#333333" stroke-width="0.0">t</text>
<text x="23.29" y="378.00" textLength="4.53" lengthAdjust="spacingAndGlyphs" font-size="12.9" font-weight="bold" fill="#333333" stroke="#333333" stroke-width="0.0">i</text>
<text x="27.84" y="378.00" textLength="5.80" lengthAdjust="spacingAndGlyphs" font-size="12.9" font-weight="bold" fill="#333333" stroke="#333333" stroke-width="0.0">t</text>
<text x="33.91" y="378.00" textLength="8.86" lengthAdjust="spacingAndGlyphs" font-size="12.9" font-weight="bold" fill="#333333" stroke="#333333" stroke-width="0.0">u</text>
<text x="42.93" y="378.00" textLength="5.80" lengthAdjust="spacingAndGlyphs" font-size="12.9" font-weight="bold" fill="#333333" stroke="#333333" stroke-width="0.0">t</text>
<text x="48.79" y="378.00" textLength="4.53" lengthAdjust="spacingAndGlyphs" font-size="12.9" font-weight="bold" fill="#333333" stroke="#333333" stroke-width="0.0">i</text>
<text x="53.27" y="378.00" textLength="8.68" lengthAdjust="spacingAndGlyphs" font-size="12.9" font-weight="bold" fill="#333333" stroke="#333333" stroke-width="0.0">o</text>
<text x="62.04" y="378.00" textLength="8.86" lengthAdjust="spacingAndGlyphs" font-size="12.9" font-weight="bold" fill="#333333" stroke="#333333" stroke-width="0.0">n</text>
<text x="71.17" y="378.00" textLength="7.35" lengthAdjust="spacingAndGlyphs" font-size="12.9" font-weight="bold" fill="#333333" stroke="#333333" stroke-width="0.0">s</text>
<text x="83.10" y="378.00" textLength="10.02" lengthAdjust="spacingAndGlyphs" font-size="12.9" font-weight="bold" fill="#333333" stroke="#333333" stroke-width="0.0">D</text>
<text x="93.02" y="378.00" textLength="4.42" lengthAdjust="spacingAndGlyphs" font-size="12.9" font-weight="bold" fill="#333333" stroke="#333333" stroke-width="0.0">i</text>
<text x="97.55" y="378.00" textLength="7.16" lengthAdjust="spacingAndGlyphs" font-size="12.9" font-weight="bold" fill="#333333" stroke="#333333" stroke-width="0.0">s</text>
<text x="104.81" y="378.00" textLength="6.81" lengthAdjust="spacingAndGlyphs" font-size="12.9" font-weight="bold" fill="#333333" stroke="#333333" stroke-width="0.0">c</text>
<text x="112.00" y="378.00" textLength="6.36" lengthAdjust="spacingAndGlyphs" font-size="12.9" font-weight="bold" fill="#333333" stroke="#333333" stroke-width="0.0">r</text>
<text x="118.14" y="378.00" textLength="8.28" lengthAdjust="spacingAndGlyphs" font-size="12.9" font-weight="bold" fill="#333333" stroke="#333333" stroke-width="0.0">e</text>
<text x="126.60" y="378.00" textLength="8.90" lengthAdjust="spacingAndGlyphs" font-size="12.9" font-weight="bold" fill="#333333" stroke="#333333" stroke-width="0.0">p</text>
<text x="135.51" y="378.00" textLength="7.20" lengthAdjust="spacingAndGlyphs" font-size="12.9" font-weight="bold" fill="#333333" stroke="#333333" stroke-width="0.0">a</text>
<text x="143.81" y="378.00" textLength="8.64" lengthAdjust="spacingAndGlyphs" font-size="12.9" font-weight="bold" fill="#333333" stroke="#333333" stroke-width="0.0">n</text>
<text x="152.61" y="378.00" textLength="6.81" lengthAdjust="spacingAndGlyphs" font-size="12.9" font-weight="bold" fill="#333333" stroke="#333333" stroke-width="0.0">c</text>
<text x="159.93" y="378.00" textLength="7.88" lengthAdjust="spacingAndGlyphs" font-size="12.9" font-weight="bold" fill="#333333" stroke="#333333" stroke-width="0.0">y</text>
<text x="173.01" y="378.00" textLength="9.33" lengthAdjust="spacingAndGlyphs" font-size="12.9" font-weight="bold" fill="#333333" stroke="#333333" stroke-width="0.0">b</text>
<text x="182.22" y="378.00" textLength="8.68" lengthAdjust="spacingAndGlyphs" font-size="12.9" font-weight="bold" fill="#333333" stroke="#333333" stroke-width="0.0">e</text>
<text x="191.18" y="378.00" textLength="5.80" lengthAdjust="spacingAndGlyphs" font-size="12.9" font-weight="bold" fill="#333333" stroke="#333333" stroke-width="0.0">t</text>
<text x="197.76" y="378.00" textLength="10.98" lengthAdjust="spacingAndGlyphs" font-size="12.9" font-weight="bold" fill="#333333" stroke="#333333" stroke-width="0.0">w</text>
<text x="209.18" y="378.00" textLength="8.68" lengthAdjust="spacingAndGlyphs" font-size="12.9" font-weight="bold" fill="#333333" stroke="#333333" stroke-width="0.0">e</text>
<text x="217.98" y="378.00" textLength="8.68" lengthAdjust="spacingAndGlyphs" font-size="12.9" font-weight="bold" fill="#333333" stroke="#333333" stroke-width="0.0">e</text>
<text x="226.87" y="378.00" textLength="9.06" lengthAdjust="spacingAndGlyphs" font-size="12.9" font-weight="bold" fill="#333333" stroke="#333333" stroke-width="0.0">n</text>
<text x="240.07" y="378.00" textLength="8.71" lengthAdjust="spacingAndGlyphs" font-size="12.9" font-weight="bold" fill="#333333" stroke="#333333" stroke-width="0.0">n</text>
<text x="248.85" y="378.00" textLength="8.35" lengthAdjust="spacingAndGlyphs" font-size="12.9" font-weight="bold" fill="#333333" stroke="#333333" stroke-width="0.0">e</text>
<text x="257.36" y="378.00" textLength="5.80" lengthAdjust="spacingAndGlyphs" font-size="12.9" font-weight="bold" fill="#333333" stroke="#333333" stroke-width="0.0">t</text>
<text x="267.88" y="378.00" textLength="4.44" lengthAdjust="spacingAndGlyphs" font-size="12.9" font-weight="bold" fill="#333333" stroke="#333333" stroke-width="0.0">l</text>
<text x="272.24" y="378.00" textLength="8.32" lengthAdjust="spacingAndGlyphs" font-size="12.9" font-weight="bold" fill="#333333" stroke="#333333" stroke-width="0.0">e</text>
<text x="280.77" y="378.00" textLength="8.69" lengthAdjust="spacingAndGlyphs" font-size="12.9" font-weight="bold" fill="#333333" stroke="#333333" stroke-width="0.0">n</text>
<text x="289.53" y="378.00" textLength="8.87" lengthAdjust="spacingAndGlyphs" font-size="12.9" font-weight="bold" fill="#333333" stroke="#333333" stroke-width="0.0">d</text>
<text x="298.32" y="378.00" textLength="4.44" lengthAdjust="spacingAndGlyphs" font-size="12.9" font-weight="bold" fill="#333333" stroke="#333333" stroke-width="0.0">i</text>
<text x="302.78" y="378.00" textLength="8.69" lengthAdjust="spacingAndGlyphs" font-size="12.9" font-weight="bold" fill="#333333" stroke="#333333" stroke-width="0.0">n</text>
<text x="311.54" y="378.00" textLength="8.87" lengthAdjust="spacingAndGlyphs" font-size="12.9" font-weight="bold" fill="#333333" stroke="#333333" stroke-width="0.0">g</text>
<text x="320.29" y="378.00" textLength="4.84" lengthAdjust="spacingAndGlyphs" font-size="12.9" font-weight="bold" fill="#333333" stroke="#333333" stroke-width="0.0">/</text>
<text x="329.03" y="378.00" textLength="9.11" lengthAdjust="spacingAndGlyphs" font-size="12.9" font-weight="bold" fill="#333333" stroke="#333333" stroke-width="0.0">b</text>
<text x="338.06" y="378.00" textLength="8.66" lengthAdjust="spacingAndGlyphs" font-size="12.9" font-weight="bold" fill="#333333" stroke="#333333" stroke-width="0.0">o</text>
<text x="346.67" y="378.00" textLength="6.51" lengthAdjust="spacingAndGlyphs" font-size="12.9" font-weight="bold" fill="#333333" stroke="#333333" stroke-width="0.0">r</text>
<text x="352.91" y="378.00" textLength="6.51" lengthAdjust="spacingAndGlyphs" font-size="12.9" font-weight="bold" fill="#333333" stroke="#333333" stroke-width="0.0">r</text>
<text x="359.24" y="378.00" textLength="8.66" lengthAdjust="spacingAndGlyphs" font-size="12.9" font-weight="bold" fill="#333333" stroke="#333333" stroke-width="0.0">o</text>
<text x="368.43" y="378.00" textLength="10.72" lengthAdjust="spacingAndGlyphs" font-size="12.9" font-weight="bold" fill="#333333" stroke="#333333" stroke-width="0.0">w</text>
<text x="379.49" y="378.00" textLength="4.52" lengthAdjust="spacingAndGlyphs" font-size="12.9" font-weight="bold" fill="#333333" stroke="#333333" stroke-width="0.0">i</text>
<text x="384.02" y="378.00" textLength="8.85" lengthAdjust="spacingAndGlyphs" font-size="12.9" font-weight="bold" fill="#333333" stroke="#333333" stroke-width="0.0">n</text>
<text x="392.94" y="378.00" textLength="9.03" lengthAdjust="spacingAndGlyphs" font-size="12.9" font-weight="bold" fill="#333333" stroke="#333333" stroke-width="0.0">g</text>
<text x="405.90" y="378.00" textLength="4.37" lengthAdjust="spacingAndGlyphs" font-size="12.9" font-weight="bold" fill="#333333" stroke="#333333" stroke-width="0.0">i</text>
<text x="410.28" y="378.00" textLength="8.54" lengthAdjust="spacingAndGlyphs" font-size="12.9" font-weight="bold" fill="#333333" stroke="#333333" stroke-width="0.0">n</text>
<text x="423.06" y="378.00" textLength="8.79" lengthAdjust="spacingAndGlyphs" font-size="12.9" font-weight="bold" fill="#333333" stroke="#333333" stroke-width="0.0">n</text>
<text x="431.96" y="378.00" textLength="8.61" lengthAdjust="spacingAndGlyphs" font-size="12.9" font-weight="bold" fill="#333333" stroke="#333333" stroke-width="0.0">o</text>
<text x="440.66" y="378.00" textLength="8.79" lengthAdjust="spacingAndGlyphs" font-size="12.9" font-weight="bold" fill="#333333" stroke="#333333" stroke-width="0.0">n</text>
<text x="449.71" y="378.00" textLength="4.99" lengthAdjust="spacingAndGlyphs" font-size="12.9" font-weight="bold" fill="#333333" stroke="#333333" stroke-width="0.0">-</text>
<text x="454.70" y="378.00" textLength="5.63" lengthAdjust="spacingAndGlyphs" font-size="12.9" font-weight="bold" fill="#333333" stroke="#333333" stroke-width="0.0">f</text>
<text x="460.11" y="378.00" textLength="4.49" lengthAdjust="spacingAndGlyphs" font-size="12.9" font-weight="bold" fill="#333333" stroke="#333333" stroke-width="0.0">i</text>
<text x="464.16" y="378.00" textLength="8.79" lengthAdjust="spacingAndGlyphs" font-size="12.9" font-weight="bold" fill="#333333" stroke="#333333" stroke-width="0.0">n</text>
<text x="473.15" y="378.00" textLength="7.32" lengthAdjust="spacingAndGlyphs" font-size="12.9" font-weight="bold" fill="#333333" stroke="#333333" stroke-width="0.0">a</text>
<text x="481.61" y="378.00" textLength="8.79" lengthAdjust="spacingAndGlyphs" font-size="12.9" font-weight="bold" fill="#333333" stroke="#333333" stroke-width="0.0">n</text>
<text x="490.56" y="378.00" textLength="6.93" lengthAdjust="spacingAndGlyphs" font-size="12.9" font-weight="bold" fill="#333333" stroke="#333333" stroke-width="0.0">c</text>
<text x="497.82" y="378.00" textLength="4.49" lengthAdjust="spacingAndGlyphs" font-size="12.9" font-weight="bold" fill="#333333" stroke="#333333" stroke-width="0.0">i</text>
<text x="502.37" y="378.00" textLength="7.32" lengthAdjust="spacingAndGlyphs" font-size="12.9" font-weight="bold" fill="#333333" stroke="#333333" stroke-width="0.0">a</text>
<text x="510.62" y="378.00" textLength="4.49" lengthAdjust="spacingAndGlyphs" font-size="12.9" font-weight="bold" fill="#333333" stroke="#333333" stroke-width="0.0">l</text>
<text x="519.60" y="378.00" textLength="7.35" lengthAdjust="spacingAndGlyphs" font-size="12.9" font-weight="bold" fill="#333333" stroke="#333333" stroke-width="0.0">a</text>
<text x="528.09" y="378.00" textLength="8.83" lengthAdjust="spacingAndGlyphs" font-size="12.9" font-weight="bold" fill="#333333" stroke="#333333" stroke-width="0.0">n</text>
<text x="536.98" y="378.00" textLength="9.01" lengthAdjust="spacingAndGlyphs" font-size="12.9" font-weight="bold" fill="#333333" stroke="#333333" stroke-width="0.0">d</text>
<text x="549.68" y="378.00" textLength="5.63" lengthAdjust="spacingAndGlyphs" font-size="12.9" font-weight="bold" fill="#333333" stroke="#333333" stroke-width="0.0">f</text>
<text x="555.10" y="378.00" textLength="4.49" lengthAdjust="spacingAndGlyphs" font-size="12.9" font-weight="bold" fill="#333333" stroke="#333333" stroke-width="0.0">i</text>
<text x="559.14" y="378.00" textLength="8.79" lengthAdjust="spacingAndGlyphs" font-size="12.9" font-weight="bold" fill="#333333" stroke="#333333" stroke-width="0.0">n</text>
<text x="568.14" y="378.00" textLength="7.32" lengthAdjust="spacingAndGlyphs" font-size="12.9" font-weight="bold" fill="#333333" stroke="#333333" stroke-width="0.0">a</text>
<text x="576.59" y="378.00" textLength="8.79" lengthAdjust="spacingAndGlyphs" font-size="12.9" font-weight="bold" fill="#333333" stroke="#333333" stroke-width="0.0">n</text>
<text x="585.54" y="378.00" textLength="6.93" lengthAdjust="spacingAndGlyphs" font-size="12.9" font-weight="bold" fill="#333333" stroke="#333333" stroke-width="0.0">c</text>
<text x="592.81" y="378.00" textLength="4.49" lengthAdjust="spacingAndGlyphs" font-size="12.9" font-weight="bold" fill="#333333" stroke="#333333" stroke-width="0.0">i</text>
<text x="597.35" y="378.00" textLength="7.32" lengthAdjust="spacingAndGlyphs" font-size="12.9" font-weight="bold" fill="#333333" stroke="#333333" stroke-width="0.0">a</text>
<text x="605.61" y="378.00" textLength="4.49" lengthAdjust="spacingAndGlyphs" font-size="12.9" font-weight="bold" fill="#333333" stroke="#333333" stroke-width="0.0">l</text>
<text x="542.09" y="394.90" textLength="7.54" lengthAdjust="spacingAndGlyphs" font-size="12" font-weight="normal" fill="#666666" stroke="#666666" stroke-width="0.2">S</text>
<text x="550.01" y="394.90" textLength="7.53" lengthAdjust="spacingAndGlyphs" font-size="12" font-weight="normal" fill="#666666" stroke="#666666" stroke-width="0.2">o</text>
<text x="557.83" y="394.90" textLength="7.66" lengthAdjust="spacingAndGlyphs" font-size="12" font-weight="normal" fill="#666666" stroke="#666666" stroke-width="0.2">u</text>
<text x="565.81" y="394.90" textLength="5.40" lengthAdjust="spacingAndGlyphs" font-size="12" font-weight="normal" fill="#666666" stroke="#666666" stroke-width="0.2">r</text>
<text x="571.13" y="394.90" textLength="6.36" lengthAdjust="spacingAndGlyphs" font-size="12" font-weight="normal" fill="#666666" stroke="#666666" stroke-width="0.2">c</text>
<text x="577.82" y="394.90" textLength="7.60" lengthAdjust="spacingAndGlyphs" font-size="12" font-weight="normal" fill="#666666" stroke="#666666" stroke-width="0.2">e</text>
<text x="585.76" y="394.90" textLength="3.71" lengthAdjust="spacingAndGlyphs" font-size="12" font-weight="normal" fill="#666666" stroke="#666666" stroke-width="0.2">:</text>
<polyline points="76.68,172.00 79.90,173.30 83.15,173.00 86.43,168.70 89.72,173.70 92.97,174.30 96.22,173.00 99.51,171.00 102.80,173.50 106.02,173.50 109.27,174.20 112.55,170.30 115.84,171.50 119.06,169.50 122.31,172.00 125.60,172.30 128.88,171.60 132.10,172.60 135.35,169.70 138.64,172.60 141.92,172.70 145.18,171.60 148.43,175.00 151.71,170.30 155.00,172.30 158.22,169.70 161.47,174.00 164.76,166.85 168.04,174.05 171.26,174.95 174.51,174.60 177.80,172.10 181.09,174.00 184.30,174.30 187.55,169.95 190.84,168.35 194.13,168.30 197.38,170.50 200.63,174.00 203.92,169.70 207.21,173.20 210.42,169.70 213.67,166.50 216.96,161.10 220.25,179.10 223.46,179.50 226.71,174.00 230.00,178.50 233.29,170.50 236.50,173.50 239.76,185.00 243.04,173.50 246.33,166.00 249.58,171.00 252.83,177.00 256.12,173.00 259.41,162.50 262.62,182.50 265.88,160.50 269.16,169.50 272.45,165.50 275.67,164.50 278.92,162.50 282.20,178.00 285.49,169.50 288.71,162.10 291.96,176.00 295.25,163.00 298.53,184.70 301.78,159.20 305.04,190.00 308.32,180.20 311.61,158.20 314.83,196.00 318.08,172.00 321.37,202.70 324.65,161.10 327.87,192.40 331.12,175.20 334.41,176.40 337.69,167.00 340.91,193.70 344.16,155.70 347.45,146.50 350.74,175.10 353.99,240.50 357.24,122.30 360.53,154.70 363.81,128.00 367.03,258.20 370.28,175.10 373.57,186.30 376.86,205.10 380.07,222.40 383.32,160.20 386.61,138.20 389.90,173.20 393.11,204.70 396.36,134.70 399.65,199.50 402.94,213.20 406.19,160.20 409.44,169.30 412.73,174.80 416.02,173.60 419.23,155.00 422.48,172.90 425.77,178.70 429.06,171.80 432.27,159.50 435.53,179.70 438.81,176.70 442.10,166.70 445.32,192.20 448.57,172.70 451.85,169.20 455.14,157.20 458.39,152.40 461.65,138.40 464.93,195.10 468.22,183.40 471.44,168.20 474.69,193.90 477.97,179.00 481.26,179.60 484.48,151.20 487.73,155.70 491.02,189.00 494.30,156.00 497.52,173.00 500.77,128.40 504.06,175.00 507.35,151.80 510.60,186.70 513.85,146.00 517.14,178.00 520.42,145.30 523.64,171.10 526.89,169.30 530.18,152.80 533.46,158.80 536.68,178.30 539.93,231.40 543.22,140.80 546.51,173.80 549.72,184.30 552.97,185.00 556.26,145.00 559.55,162.10 562.80,178.70 566.05,148.30 569.34,175.70 572.63,143.20 575.84,159.70 579.09,168.70 582.38,145.70" fill="none" stroke="#0879c6" stroke-width="2" stroke-linejoin="round" stroke-linecap="round"/>
<circle cx="76.00" cy="172.00" r="2.2" fill="#0879c6"/>
<circle cx="79.00" cy="173.30" r="2.2" fill="#0879c6"/>
<circle cx="83.00" cy="173.00" r="2.2" fill="#0879c6"/>
<circle cx="86.00" cy="168.70" r="2.2" fill="#0879c6"/>
<circle cx="89.00" cy="173.70" r="2.2" fill="#0879c6"/>
<circle cx="92.00" cy="174.30" r="2.2" fill="#0879c6"/>
<circle cx="96.00" cy="173.00" r="2.2" fill="#0879c6"/>
<circle cx="99.00" cy="171.00" r="2.2" fill="#0879c6"/>
<circle cx="102.00" cy="173.50" r="2.2" fill="#0879c6"/>
<circle cx="106.00" cy="173.50" r="2.2" fill="#0879c6"/>
<circle cx="109.00" cy="174.20" r="2.2" fill="#0879c6"/>
<circle cx="112.00" cy="170.30" r="2.2" fill="#0879c6"/>
<circle cx="115.00" cy="171.50" r="2.2" fill="#0879c6"/>
<circle cx="119.00" cy="169.50" r="2.2" fill="#0879c6"/>
<circle cx="122.00" cy="172.00" r="2.2" fill="#0879c6"/>
<circle cx="125.00" cy="172.30" r="2.2" fill="#0879c6"/>
<circle cx="128.00" cy="171.60" r="2.2" fill="#0879c6"/>
<circle cx="132.00" cy="172.60" r="2.2" fill="#0879c6"/>
<circle cx="135.00" cy="169.70" r="2.2" fill="#0879c6"/>
<circle cx="138.00" cy="172.60" r="2.2" fill="#0879c6"/>
<circle cx="141.00" cy="172.70" r="2.2" fill="#0879c6"/>
<circle cx="145.00" cy="171.60" r="2.2" fill="#0879c6"/>
<circle cx="148.00" cy="175.00" r="2.2" fill="#0879c6"/>
<circle cx="151.00" cy="170.30" r="2.2" fill="#0879c6"/>
<circle cx="155.00" cy="172.30" r="2.2" fill="#0879c6"/>
<circle cx="158.00" cy="169.70" r="2.2" fill="#0879c6"/>
<circle cx="161.00" cy="174.00" r="2.2" fill="#0879c6"/>
<circle cx="164.00" cy="166.85" r="2.2" fill="#0879c6"/>
<circle cx="168.00" cy="174.05" r="2.2" fill="#0879c6"/>
<circle cx="171.00" cy="174.95" r="2.2" fill="#0879c6"/>
<circle cx="174.00" cy="174.60" r="2.2" fill="#0879c6"/>
<circle cx="177.00" cy="172.10" r="2.2" fill="#0879c6"/>
<circle cx="181.00" cy="174.00" r="2.2" fill="#0879c6"/>
<circle cx="184.00" cy="174.30" r="2.2" fill="#0879c6"/>
<circle cx="187.00" cy="169.95" r="2.2" fill="#0879c6"/>
<circle cx="190.00" cy="168.35" r="2.2" fill="#0879c6"/>
<circle cx="194.00" cy="168.30" r="2.2" fill="#0879c6"/>
<circle cx="197.00" cy="170.50" r="2.2" fill="#0879c6"/>
<circle cx="200.00" cy="174.00" r="2.2" fill="#0879c6"/>
<circle cx="203.00" cy="169.70" r="2.2" fill="#0879c6"/>
<circle cx="207.00" cy="173.20" r="2.2" fill="#0879c6"/>
<circle cx="210.00" cy="169.70" r="2.2" fill="#0879c6"/>
<circle cx="213.00" cy="166.50" r="2.2" fill="#0879c6"/>
<circle cx="216.00" cy="161.10" r="2.2" fill="#0879c6"/>
<circle cx="220.00" cy="179.10" r="2.2" fill="#0879c6"/>
<circle cx="223.00" cy="179.50" r="2.2" fill="#0879c6"/>
<circle cx="226.00" cy="174.00" r="2.2" fill="#0879c6"/>
<circle cx="230.00" cy="178.50" r="2.2" fill="#0879c6"/>
<circle cx="233.00" cy="170.50" r="2.2" fill="#0879c6"/>
<circle cx="236.00" cy="173.50" r="2.2" fill="#0879c6"/>
<circle cx="239.00" cy="185.00" r="2.2" fill="#0879c6"/>
<circle cx="243.00" cy="173.50" r="2.2" fill="#0879c6"/>
<circle cx="246.00" cy="166.00" r="2.2" fill="#0879c6"/>
<circle cx="249.00" cy="171.00" r="2.2" fill="#0879c6"/>
<circle cx="252.00" cy="177.00" r="2.2" fill="#0879c6"/>
<circle cx="256.00" cy="173.00" r="2.2" fill="#0879c6"/>
<circle cx="259.00" cy="162.50" r="2.2" fill="#0879c6"/>
<circle cx="262.00" cy="182.50" r="2.2" fill="#0879c6"/>
<circle cx="265.00" cy="160.50" r="2.2" fill="#0879c6"/>
<circle cx="269.00" cy="169.50" r="2.2" fill="#0879c6"/>
<circle cx="272.00" cy="165.50" r="2.2" fill="#0879c6"/>
<circle cx="275.00" cy="164.50" r="2.2" fill="#0879c6"/>
<circle cx="278.00" cy="162.50" r="2.2" fill="#0879c6"/>
<circle cx="282.00" cy="178.00" r="2.2" fill="#0879c6"/>
<circle cx="285.00" cy="169.50" r="2.2" fill="#0879c6"/>
<circle cx="288.00" cy="162.10" r="2.2" fill="#0879c6"/>
<circle cx="291.00" cy="176.00" r="2.2" fill="#0879c6"/>
<circle cx="295.00" cy="163.00" r="2.2" fill="#0879c6"/>
<circle cx="298.00" cy="184.70" r="2.2" fill="#0879c6"/>
<circle cx="301.00" cy="159.20" r="2.2" fill="#0879c6"/>
<circle cx="305.00" cy="190.00" r="2.2" fill="#0879c6"/>
<circle cx="308.00" cy="180.20" r="2.2" fill="#0879c6"/>
<circle cx="311.00" cy="158.20" r="2.2" fill="#0879c6"/>
<circle cx="314.00" cy="196.00" r="2.2" fill="#0879c6"/>
<circle cx="318.00" cy="172.00" r="2.2" fill="#0879c6"/>
<circle cx="321.00" cy="202.70" r="2.2" fill="#0879c6"/>
<circle cx="324.00" cy="161.10" r="2.2" fill="#0879c6"/>
<circle cx="327.00" cy="192.40" r="2.2" fill="#0879c6"/>
<circle cx="331.00" cy="175.20" r="2.2" fill="#0879c6"/>
<circle cx="334.00" cy="176.40" r="2.2" fill="#0879c6"/>
<circle cx="337.00" cy="167.00" r="2.2" fill="#0879c6"/>
<circle cx="340.00" cy="193.70" r="2.2" fill="#0879c6"/>
<circle cx="344.00" cy="155.70" r="2.2" fill="#0879c6"/>
<circle cx="347.00" cy="146.50" r="2.2" fill="#0879c6"/>
<circle cx="350.00" cy="175.10" r="2.2" fill="#0879c6"/>
<circle cx="353.00" cy="240.50" r="2.2" fill="#0879c6"/>
<circle cx="357.00" cy="122.30" r="2.2" fill="#0879c6"/>
<circle cx="360.00" cy="154.70" r="2.2" fill="#0879c6"/>
<circle cx="363.00" cy="128.00" r="2.2" fill="#0879c6"/>
<circle cx="367.00" cy="258.20" r="2.2" fill="#0879c6"/>
<circle cx="370.00" cy="175.10" r="2.2" fill="#0879c6"/>
<circle cx="373.00" cy="186.30" r="2.2" fill="#0879c6"/>
<circle cx="376.00" cy="205.10" r="2.2" fill="#0879c6"/>
<circle cx="380.00" cy="222.40" r="2.2" fill="#0879c6"/>
<circle cx="383.00" cy="160.20" r="2.2" fill="#0879c6"/>
<circle cx="386.00" cy="138.20" r="2.2" fill="#0879c6"/>
<circle cx="389.00" cy="173.20" r="2.2" fill="#0879c6"/>
<circle cx="393.00" cy="204.70" r="2.2" fill="#0879c6"/>
<circle cx="396.00" cy="134.70" r="2.2" fill="#0879c6"/>
<circle cx="399.00" cy="199.50" r="2.2" fill="#0879c6"/>
<circle cx="402.00" cy="213.20" r="2.2" fill="#0879c6"/>
<circle cx="406.00" cy="160.20" r="2.2" fill="#0879c6"/>
<circle cx="409.00" cy="169.30" r="2.2" fill="#0879c6"/>
<circle cx="412.00" cy="174.80" r="2.2" fill="#0879c6"/>
<circle cx="416.00" cy="173.60" r="2.2" fill="#0879c6"/>
<circle cx="419.00" cy="155.00" r="2.2" fill="#0879c6"/>
<circle cx="422.00" cy="172.90" r="2.2" fill="#0879c6"/>
<circle cx="425.00" cy="178.70" r="2.2" fill="#0879c6"/>
<circle cx="429.00" cy="171.80" r="2.2" fill="#0879c6"/>
<circle cx="432.00" cy="159.50" r="2.2" fill="#0879c6"/>
<circle cx="435.00" cy="179.70" r="2.2" fill="#0879c6"/>
<circle cx="438.00" cy="176.70" r="2.2" fill="#0879c6"/>
<circle cx="442.00" cy="166.70" r="2.2" fill="#0879c6"/>
<circle cx="445.00" cy="192.20" r="2.2" fill="#0879c6"/>
<circle cx="448.00" cy="172.70" r="2.2" fill="#0879c6"/>
<circle cx="451.00" cy="169.20" r="2.2" fill="#0879c6"/>
<circle cx="455.00" cy="157.20" r="2.2" fill="#0879c6"/>
<circle cx="458.00" cy="152.40" r="2.2" fill="#0879c6"/>
<circle cx="461.00" cy="138.40" r="2.2" fill="#0879c6"/>
<circle cx="464.00" cy="195.10" r="2.2" fill="#0879c6"/>
<circle cx="468.00" cy="183.40" r="2.2" fill="#0879c6"/>
<circle cx="471.00" cy="168.20" r="2.2" fill="#0879c6"/>
<circle cx="474.00" cy="193.90" r="2.2" fill="#0879c6"/>
<circle cx="477.00" cy="179.00" r="2.2" fill="#0879c6"/>
<circle cx="481.00" cy="179.60" r="2.2" fill="#0879c6"/>
<circle cx="484.00" cy="151.20" r="2.2" fill="#0879c6"/>
<circle cx="487.00" cy="155.70" r="2.2" fill="#0879c6"/>
<circle cx="491.00" cy="189.00" r="2.2" fill="#0879c6"/>
<circle cx="494.00" cy="156.00" r="2.2" fill="#0879c6"/>
<circle cx="497.00" cy="173.00" r="2.2" fill="#0879c6"/>
<circle cx="500.00" cy="128.40" r="2.2" fill="#0879c6"/>
<circle cx="504.00" cy="175.00" r="2.2" fill="#0879c6"/>
<circle cx="507.00" cy="151.80" r="2.2" fill="#0879c6"/>
<circle cx="510.00" cy="186.70" r="2.2" fill="#0879c6"/>
<circle cx="513.00" cy="146.00" r="2.2" fill="#0879c6"/>
<circle cx="517.00" cy="178.00" r="2.2" fill="#0879c6"/>
<circle cx="520.00" cy="145.30" r="2.2" fill="#0879c6"/>
<circle cx="523.00" cy="171.10" r="2.2" fill="#0879c6"/>
<circle cx="526.00" cy="169.30" r="2.2" fill="#0879c6"/>
<circle cx="530.00" cy="152.80" r="2.2" fill="#0879c6"/>
<circle cx="533.00" cy="158.80" r="2.2" fill="#0879c6"/>
<circle cx="536.00" cy="178.30" r="2.2" fill="#0879c6"/>
<circle cx="539.00" cy="231.40" r="2.2" fill="#0879c6"/>
<circle cx="543.00" cy="140.80" r="2.2" fill="#0879c6"/>
<circle cx="546.00" cy="173.80" r="2.2" fill="#0879c6"/>
<circle cx="549.00" cy="184.30" r="2.2" fill="#0879c6"/>
<circle cx="552.00" cy="185.00" r="2.2" fill="#0879c6"/>
<circle cx="556.00" cy="145.00" r="2.2" fill="#0879c6"/>
<circle cx="559.00" cy="162.10" r="2.2" fill="#0879c6"/>
<circle cx="562.00" cy="178.70" r="2.2" fill="#0879c6"/>
<circle cx="566.00" cy="148.30" r="2.2" fill="#0879c6"/>
<circle cx="569.00" cy="175.70" r="2.2" fill="#0879c6"/>
<circle cx="572.00" cy="143.20" r="2.2" fill="#0879c6"/>
<circle cx="575.00" cy="159.70" r="2.2" fill="#0879c6"/>
<circle cx="579.00" cy="168.70" r="2.2" fill="#0879c6"/>
<circle cx="582.00" cy="145.70" r="2.2" fill="#0879c6"/>
</svg>
</body></html>
